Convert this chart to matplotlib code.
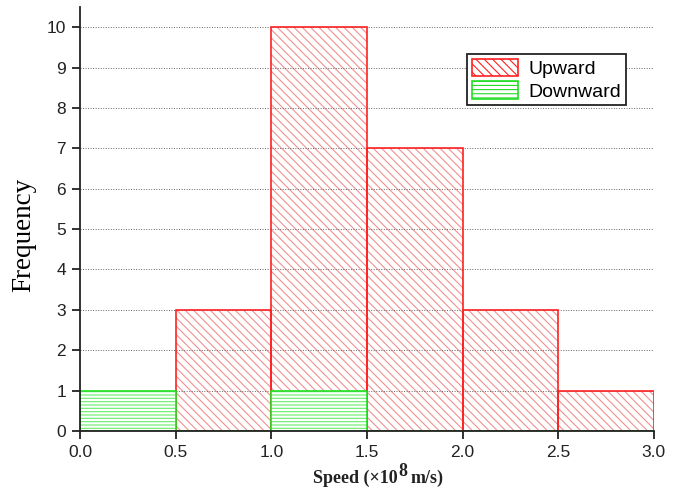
import numpy as np
import matplotlib.pyplot as plt
from matplotlib.patches import Patch

# histogram bins (x 10^8 m/s) and counts
bin_edges = [0.0, 0.5, 1.0, 1.5, 2.0, 2.5, 3.0]
upward = [0, 3, 10, 7, 3, 1]
downward = [1, 0, 1, 0, 0, 0]

x_ticks = [0.0, 0.5, 1.0, 1.5, 2.0, 2.5, 3.0]
y_ticks = list(range(0, 11))

red = '#ff2020'
red_hatch = '#f29090'
green = '#22dd22'
green_hatch = '#66ee66'

fig = plt.figure(figsize=(6.81, 4.91), dpi=100)
ax = fig.add_axes([0.1175, 0.1222, 0.8425, 0.8635])

lefts = np.array(bin_edges[:-1])
width = np.diff(bin_edges)

plt.rcParams['hatch.linewidth'] = 0.8

# upward counts: hatch layer, then outline
ax.bar(lefts, upward, width=width, align='edge', color='white',
       edgecolor=red_hatch, hatch='\\\\\\\\', linewidth=0, zorder=2)
ax.bar(lefts, upward, width=width, align='edge', color='none',
       edgecolor=red, linewidth=1.2, zorder=4)

# downward counts
ax.bar(lefts, downward, width=width, align='edge', color='white',
       edgecolor=green_hatch, hatch='-----', linewidth=0, zorder=5)
ax.bar(lefts, downward, width=width, align='edge', color='none',
       edgecolor=green, linewidth=1.2, zorder=6)

for y in y_ticks[1:]:
    ax.axhline(y, color='#666666', linestyle=(0, (1.0, 1.6)), linewidth=0.7, zorder=3)

ax.set_xlim(0, 3.0)
ax.set_ylim(0, 10.5)
ax.set_xticks(x_ticks)
ax.set_xticklabels(['%.1f' % v for v in x_ticks])
ax.set_yticks(y_ticks)

for s in ['top', 'right']:
    ax.spines[s].set_visible(False)
for s in ['left', 'bottom']:
    ax.spines[s].set_linewidth(1.3)
    ax.spines[s].set_color('#222222')
    ax.spines[s].set_zorder(7)

ax.tick_params(direction='out', length=6, width=1.3, color='#222222',
               labelsize=12.5, pad=4)
for lab in ax.get_xticklabels() + ax.get_yticklabels():
    lab.set_family('Liberation Sans')
    lab.set_color('#222222')

ax.set_ylabel('Frequency', family='Liberation Serif', fontsize=19.5)
ax.yaxis.set_label_coords(-0.076, 0.462)

# x label with a full-size raised exponent
lab_kw = dict(family='Liberation Serif', fontsize=13, fontweight='bold', color='#222222')
t1 = fig.text(313 / 681, 8 / 491, 'Speed (\u00d710', ha='left', va='baseline', **lab_kw)
t2 = ax.annotate('8', xy=(1, 0), xycoords=t1, xytext=(0.5, 8), textcoords='offset points',
                 ha='left', va='baseline', **lab_kw)
ax.annotate('m/s)', xy=(1, 0), xycoords=(t2, t1), xytext=(2, 0), textcoords='offset points',
            ha='left', va='bottom', **lab_kw)

handles = [
    Patch(facecolor='white', edgecolor=red, hatch='\\\\\\\\', linewidth=1.2),
    Patch(facecolor='white', edgecolor=green, hatch='----', linewidth=1.2),
]
leg = ax.legend(handles, ['Upward', 'Downward'], loc='upper right',
                bbox_to_anchor=(0.951, 0.889), fancybox=False, framealpha=1,
                edgecolor='#222222', handlelength=2.4, handleheight=1.0,
                borderpad=0.25, labelspacing=0.15, handletextpad=0.5,
                borderaxespad=0,
                prop={'family': 'Liberation Sans', 'size': 14})
leg.get_frame().set_linewidth(1.3)
leg.set_zorder(10)

fig.savefig('out.png', dpi=100)
